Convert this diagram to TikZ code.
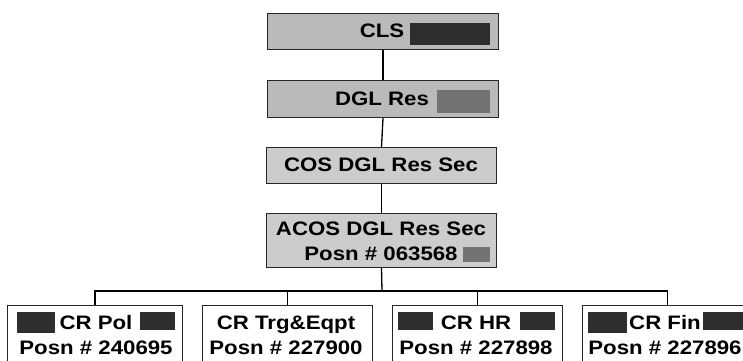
\documentclass[tikz,border=0pt]{standalone}
\usepackage{fontspec}
\newfontfamily\lab[FakeStretch=1.14]{Liberation Sans}
\begin{document}
\begin{tikzpicture}[x=1pt,y=-1pt,
  box/.style={draw=black!85, line width=1pt, inner sep=0pt, anchor=north west},
  topbox/.style={box, fill=black!27},
  midbox/.style={box, fill=black!20},
  lowbox/.style={box, fill=white},
  lbl/.style={font=\lab\bfseries\fontsize{19.5}{25}\selectfont, align=center, inner sep=0pt, text=black},
  patch/.style={fill=black!82, draw=none},
  softpatch/.style={fill=black!55, draw=none},
  wire/.style={draw=black, line width=1.3pt}]
\useasboundingbox (0,0) rectangle (743,360);
\clip (0,0) rectangle (743,360);
% upper chain
\node[topbox, minimum width=231pt, minimum height=36pt] (cls) at (267,13) {};
\node[topbox, minimum width=231pt, minimum height=37pt] (dgl) at (267,80) {};
\node[midbox, minimum width=230pt, minimum height=36pt] (cos) at (266,147) {};
\node[midbox, minimum width=230pt, minimum height=54pt] (acos) at (266,213) {};
% lower row
\node[lowbox, minimum width=175pt, minimum height=70pt] (b1) at (7,305) {};
\node[lowbox, minimum width=170pt, minimum height=70pt] (b2) at (202,305) {};
\node[lowbox, minimum width=170pt, minimum height=70pt] (b3) at (392,305) {};
\node[lowbox, minimum width=170pt, minimum height=70pt] (b4) at (582,305) {};
% redaction patches
\fill[patch] (410,23) rectangle (490,45);
\fill[softpatch] (437,90) rectangle (490,113);
\fill[softpatch] (463,247) rectangle (490,262);
\fill[patch] (17,312) rectangle (55,333);
\fill[patch] (140,312) rectangle (175,330);
\fill[patch] (398,312) rectangle (433,330);
\fill[patch] (520,312) rectangle (555,330);
\fill[patch] (588,312) rectangle (627,333);
\fill[patch] (703,312) rectangle (743,330);
% labels
\node[lbl] (tcls) at (382,31) {CLS};
\node[lbl] (tdgl) at (382,98.5) {DGL Res};
\node[lbl] (tcos) at (381,165) {COS DGL Res Sec};
\node[lbl] (tacos) at (381,241) {ACOS DGL Res Sec\\Posn \# 063568};
\node[lbl] (t1) at (96,335) {CR Pol\\Posn \# 240695};
\node[lbl] (t2) at (286,335) {CR Trg\&Eqpt\\Posn \# 227900};
\node[lbl] (t3) at (476,335) {CR HR\\Posn \# 227898};
\node[lbl] (t4) at (665,335) {CR Fin\\Posn \# 227896};
% connectors
\coordinate (bus) at (382,291);
\draw[wire] (cls.south) -- (dgl.north);
\draw[wire] (dgl.south) -- (cos.north);
\draw[wire] (cos.south) -- (acos.north);
\draw[wire] (acos.south) -- (bus);
\draw[wire] (b1.north) -- (b1.north |- bus) -- (b4.north |- bus) -- (b4.north);
\draw[wire] (b2.north) -- (b2.north |- bus);
\draw[wire] (b3.north) -- (b3.north |- bus);
\end{tikzpicture}
\end{document}
